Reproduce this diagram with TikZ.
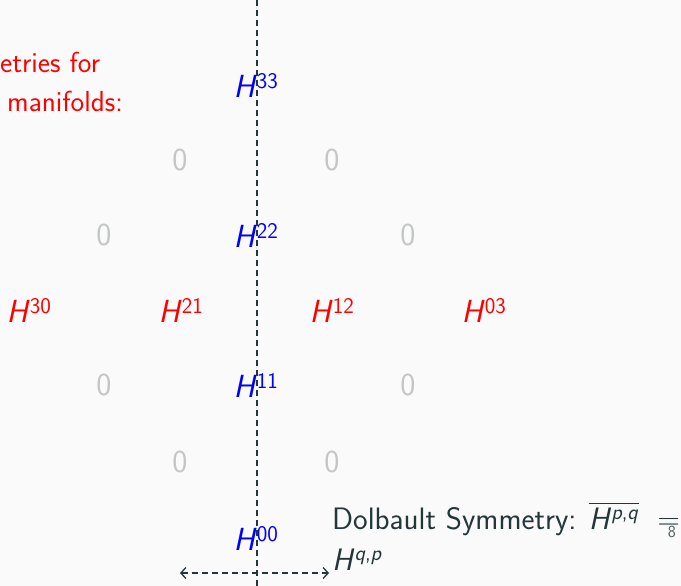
\documentclass[tikz,border=0pt]{standalone}
\usepackage{fontspec}
\usetikzlibrary{arrows.meta}
\definecolor{bgc}{HTML}{FAFAFA}
\definecolor{fgc}{HTML}{23373B}
\definecolor{zeroc}{HTML}{C4C6C6}
\definecolor{redc}{HTML}{FF0000}
\definecolor{bluec}{HTML}{0000FF}
\newcommand{\Hsym}[1]{\textit{H}\textsuperscript{#1}}
\newcommand{\ovlbox}[1]{\leavevmode\vbox{\hrule height 1.3pt\kern 3pt\hbox{#1}}}
\tikzset{
  hodge/.style={font=\sffamily\fontsize{32}{38}\selectfont, inner sep=0pt},
  zero/.style={hodge, text=zeroc},
  hred/.style={hodge, text=redc},
  hblue/.style={hodge, text=bluec},
  body/.style={font=\sffamily\fontsize{31}{37}\selectfont, inner sep=0pt},
  titletext/.style={font=\sffamily\fontsize{29}{35}\selectfont, inner sep=0pt, text=redc},
  dashline/.style={draw=fgc, line width=1.3pt, dash pattern=on 6pt off 4pt}
}
\begin{document}
\begin{tikzpicture}[x=1pt,y=-1pt]
\fill[bgc] (0,0) rectangle (681,586);
\useasboundingbox (0,0) rectangle (681,586);
\clip (0,0) rectangle (681,586);
% title fragment
\node[titletext, anchor=base west] (t1) at (0,73) {etries for};
\node[titletext, anchor=base west] (t2) at (7,112) {manifolds:};
% diamond
\node[hblue] (h33) at (256,85) {\Hsym{33}};
\node[zero] (z1) at (180,160) {0};
\node[zero] (z2) at (332,160) {0};
\node[zero] (z3) at (104,235) {0};
\node[hblue] (h22) at (256,235) {\Hsym{22}};
\node[zero] (z4) at (408,235) {0};
\node[hred] (h30) at (29,310) {\Hsym{30}};
\node[hred] (h21) at (181,310) {\Hsym{21}};
\node[hred] (h12) at (332,310) {\Hsym{12}};
\node[hred] (h03) at (484,310) {\Hsym{03}};
\node[zero] (z5) at (104,385) {0};
\node[hblue] (h11) at (256,385) {\Hsym{11}};
\node[zero] (z6) at (408,385) {0};
\node[zero] (z7) at (180,462) {0};
\node[zero] (z8) at (332,462) {0};
\node[hblue] (h00) at (256,538) {\Hsym{00}};
% axes
\coordinate (vt) at (257,0);
\coordinate (vb) at (257,586);
\coordinate (al) at (180,573);
\coordinate (ar) at (329,573);
\draw[dashline] (vt) -- (vb);
\draw[dashline, {Straight Barb[length=5pt,width=11pt]}-{Straight Barb[length=5pt,width=11pt]}] (al) -- (ar);
% text
\node[body, text=fgc, anchor=base west] (dol) at (332,529)
  {Dolbault Symmetry:\hspace{0.4em}\ovlbox{\textit{H}\textsuperscript{\textit{p},\textit{q}}}\hspace{0.6em}=};
\node[body, text=fgc, anchor=base west] (hqp) at (332,570)
  {\textit{H}\textsuperscript{\textit{q},\textit{p}}};
\node[font=\sffamily\fontsize{17}{20}\selectfont, text=fgc!80, anchor=base east, inner sep=0pt] (pg) at (676,537) {8};
\end{tikzpicture}
\end{document}
